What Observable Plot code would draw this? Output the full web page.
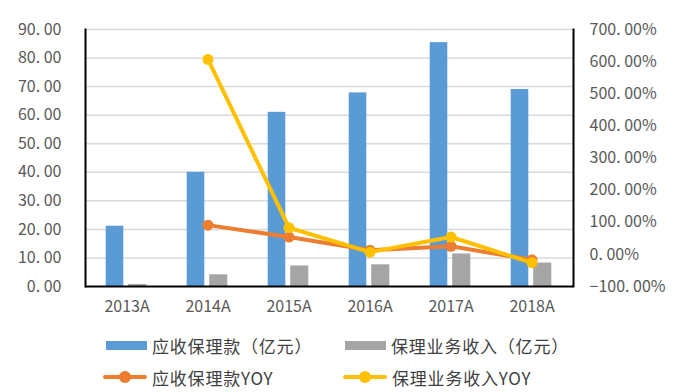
<!DOCTYPE html>
<html>
<head>
<meta charset="utf-8">
<script src="https://cdn.jsdelivr.net/npm/d3@7"></script>
<script src="https://cdn.jsdelivr.net/npm/@observablehq/plot@0.6"></script>
<style>
  html, body { margin: 0; padding: 0; background: #fff; }
  #wrap { position: relative; width: 684px; height: 392px; font-family: "Noto Sans CJK SC", sans-serif; }
  .leg { position: absolute; display: flex; align-items: center; font-size: 17px; letter-spacing: 0.8px; color: #404040; white-space: nowrap; }
  .sw { width: 41px; height: 9px; margin-right: 5px; }
  .ln { position: relative; width: 44px; height: 4px; margin-right: 5px; border-radius: 2px; }
  .ln::after { content: ""; position: absolute; left: 16px; top: -4px; width: 12px; height: 12px; border-radius: 50%; background: inherit; }
</style>
</head>
<body>
<div id="wrap"></div>
<script>
const categories = ["2013A", "2014A", "2015A", "2016A", "2017A", "2018A"];
const receivables = [21.1, 40.0, 61.0, 67.8, 85.4, 69.0];          // 应收保理款（亿元）
const factoringIncome = [0.7, 4.1, 7.2, 7.6, 11.4, 8.2];           // 保理业务收入（亿元）
const receivablesYoY = [null, 91, 54, 13, 25, -17];                // 应收保理款YOY (%)
const incomeYoY = [null, 607, 83, 7, 54, -26];                     // 保理业务收入YOY (%)
const leftTicks = [0, 10, 20, 30, 40, 50, 60, 70, 80, 90];
const rightTicks = [-100, 0, 100, 200, 300, 400, 500, 600, 700];

const leftDomain = [0, 90];
const rightDomain = [-100, 700];
const toLeft = p => leftDomain[0] + (p - rightDomain[0]) * (leftDomain[1] - leftDomain[0]) / (rightDomain[1] - rightDomain[0]);
const fromLeft = v => rightDomain[0] + (v - leftDomain[0]) * (rightDomain[1] - rightDomain[0]) / (leftDomain[1] - leftDomain[0]);

const bars = categories.map((c, i) => ({cat: c, recv: receivables[i], inc: factoringIncome[i]}));
const yoyR = categories.map((c, i) => ({cat: c, v: receivablesYoY[i]})).filter(d => d.v != null);
const yoyI = categories.map((c, i) => ({cat: c, v: incomeYoY[i]})).filter(d => d.v != null);

const fmtL = d => d3.format(".2f")(d).replace(".", ". ");
const fmtR = v => d3.format(".2f")(Math.round(fromLeft(v))).replace(".", ". ") + "%";

const chart = Plot.plot({
  width: 684,
  height: 322,
  marginLeft: 85,
  marginRight: 111,
  marginTop: 29,
  marginBottom: 36,
  style: {fontFamily: "Noto Sans CJK SC", fontSize: "16px", color: "#595959", background: "white"},
  x: {type: "band", domain: categories, padding: 0, label: null},
  y: {domain: leftDomain, label: null},
  marks: [
    Plot.gridY(leftTicks.filter(t => t > 0), {stroke: "#D9D9D9", strokeOpacity: 1, strokeWidth: 1.5}),
    Plot.barY(bars, {x: "cat", y: "recv", fill: "#5B9BD5", insetLeft: 19.7, insetRight: 43.7}),
    Plot.barY(bars, {x: "cat", y: "inc", fill: "#A5A5A5", insetLeft: 42.2, insetRight: 20.7}),
    Plot.ruleY([0], {stroke: "black", strokeWidth: 2}),
    Plot.frame({anchor: "left", stroke: "black", strokeWidth: 2}),
    Plot.frame({anchor: "right", stroke: "black", strokeWidth: 2}),
    Plot.line(yoyR, {x: "cat", y: d => toLeft(d.v), stroke: "#ED7D31", strokeWidth: 4}),
    Plot.dot(yoyR, {x: "cat", y: d => toLeft(d.v), fill: "#ED7D31", r: 5.5}),
    Plot.line(yoyI, {x: "cat", y: d => toLeft(d.v), stroke: "#FFC000", strokeWidth: 4}),
    Plot.dot(yoyI, {x: "cat", y: d => toLeft(d.v), fill: "#FFC000", r: 5.5}),
    Plot.axisY({anchor: "left", ticks: leftTicks, tickSize: 0, tickPadding: 24, tickFormat: fmtL, fontSize: 16, label: null}),
    Plot.axisY({anchor: "right", ticks: rightTicks.map(toLeft), tickSize: 0, tickPadding: 16, tickFormat: fmtR, fontSize: 16, label: null}),
    Plot.axisX({tickSize: 0, tickPadding: 14, fontSize: 16, label: null})
  ]
});

const wrap = document.getElementById("wrap");
wrap.appendChild(chart);

const legendItems = [
  {label: "应收保理款（亿元）", color: "#5B9BD5", type: "sw", left: 106, top: 345},
  {label: "保理业务收入（亿元）", color: "#A5A5A5", type: "sw", left: 345, top: 345},
  {label: "应收保理款YOY", color: "#ED7D31", type: "ln", left: 103, top: 377},
  {label: "保理业务收入YOY", color: "#FFC000", type: "ln", left: 343, top: 377}
];
for (const it of legendItems) {
  const d = document.createElement("div");
  d.className = "leg";
  d.style.left = it.left + "px";
  d.style.top = (it.top - 12) + "px";
  d.style.height = "24px";
  const s = document.createElement("div");
  s.className = it.type;
  s.style.background = it.color;
  d.appendChild(s);
  const t = document.createElement("span");
  t.textContent = it.label;
  d.appendChild(t);
  wrap.appendChild(d);
}
</script>
</body>
</html>
